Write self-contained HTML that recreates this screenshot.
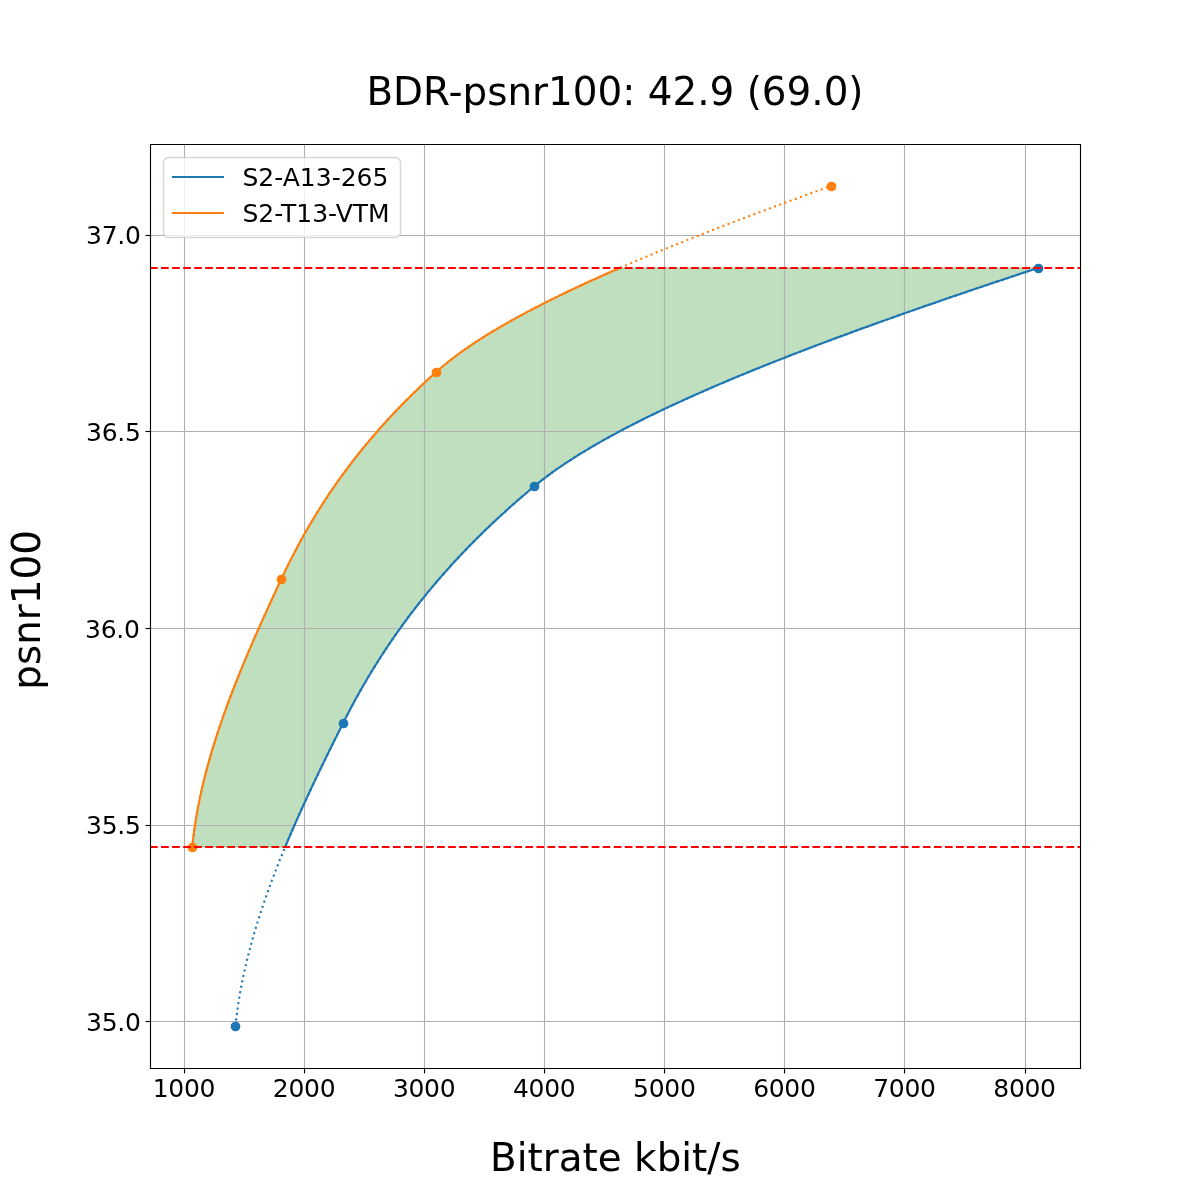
<!DOCTYPE html>
<html lang="en"><head><meta charset="utf-8"><title>BDR-psnr100</title>
<style>html,body{margin:0;padding:0;background:#fff}body{width:1200px;height:1200px;overflow:hidden}svg{display:block}</style></head>
<body>
<svg width="1200" height="1200" viewBox="0 0 1200 1200">
<defs><clipPath id="ax"><rect x="150" y="144" width="930" height="924"/></clipPath></defs>
<rect width="1200" height="1200" fill="#fff"/>
<g clip-path="url(#ax)">
<path d="M285.16 847.00 L286.37 844.09 L287.59 841.18 L288.83 838.27 L290.07 835.36 L291.32 832.45 L292.58 829.54 L293.85 826.63 L295.13 823.72 L296.41 820.81 L297.70 817.90 L299.01 814.99 L300.31 812.09 L301.63 809.18 L302.95 806.27 L304.28 803.36 L305.62 800.45 L306.96 797.54 L308.31 794.63 L309.67 791.72 L311.03 788.81 L312.40 785.90 L313.78 782.99 L315.16 780.08 L316.54 777.17 L317.94 774.26 L319.33 771.35 L320.73 768.44 L322.14 765.53 L323.55 762.62 L324.97 759.71 L326.39 756.80 L327.81 753.89 L329.24 750.98 L330.67 748.08 L332.11 745.17 L333.55 742.26 L334.99 739.35 L336.43 736.44 L337.88 733.53 L339.33 730.62 L340.79 727.71 L342.24 724.80 L343.70 721.89 L345.18 718.98 L346.67 716.07 L348.17 713.16 L349.69 710.25 L351.23 707.34 L352.79 704.43 L354.36 701.52 L355.95 698.61 L357.56 695.70 L359.18 692.79 L360.82 689.88 L362.48 686.97 L364.16 684.07 L365.86 681.16 L367.57 678.25 L369.31 675.34 L371.06 672.43 L372.83 669.52 L374.63 666.61 L376.44 663.70 L378.27 660.79 L380.13 657.88 L382.00 654.97 L383.90 652.06 L385.82 649.15 L387.76 646.24 L389.72 643.33 L391.70 640.42 L393.70 637.51 L395.73 634.60 L397.78 631.69 L399.85 628.78 L401.95 625.87 L404.06 622.96 L406.21 620.06 L408.37 617.15 L410.56 614.24 L412.78 611.33 L415.02 608.42 L417.28 605.51 L419.57 602.60 L421.88 599.69 L424.22 596.78 L426.59 593.87 L428.98 590.96 L431.40 588.05 L433.84 585.14 L436.31 582.23 L438.81 579.32 L441.34 576.41 L443.89 573.50 L446.47 570.59 L449.08 567.68 L451.71 564.77 L454.38 561.86 L457.07 558.95 L459.79 556.05 L462.54 553.14 L465.32 550.23 L468.13 547.32 L470.97 544.41 L473.84 541.50 L476.74 538.59 L479.67 535.68 L482.63 532.77 L485.63 529.86 L488.65 526.95 L491.71 524.04 L494.79 521.13 L497.91 518.22 L501.06 515.31 L504.24 512.40 L507.46 509.49 L510.71 506.58 L513.99 503.67 L517.31 500.76 L520.66 497.85 L524.04 494.94 L527.46 492.04 L530.91 489.13 L534.39 486.22 L537.96 483.31 L541.63 480.40 L545.42 477.49 L549.33 474.58 L553.34 471.67 L557.46 468.76 L561.69 465.85 L566.03 462.94 L570.47 460.03 L575.01 457.12 L579.66 454.21 L584.42 451.30 L589.27 448.39 L594.22 445.48 L599.27 442.57 L604.42 439.66 L609.67 436.75 L615.01 433.84 L620.44 430.93 L625.97 428.03 L631.59 425.12 L637.29 422.21 L643.09 419.30 L648.98 416.39 L654.95 413.48 L661.00 410.57 L667.15 407.66 L673.37 404.75 L679.68 401.84 L686.06 398.93 L692.53 396.02 L699.08 393.11 L705.70 390.20 L712.40 387.29 L719.17 384.38 L726.02 381.47 L732.93 378.56 L739.92 375.65 L746.98 372.74 L754.11 369.83 L761.31 366.92 L768.57 364.02 L775.90 361.11 L783.29 358.20 L790.75 355.29 L798.26 352.38 L805.84 349.47 L813.48 346.56 L821.17 343.65 L828.92 340.74 L836.73 337.83 L844.59 334.92 L852.51 332.01 L860.48 329.10 L868.49 326.19 L876.56 323.28 L884.68 320.37 L892.84 317.46 L901.05 314.55 L909.31 311.64 L917.61 308.73 L925.95 305.82 L934.33 302.91 L942.76 300.01 L951.22 297.10 L959.72 294.19 L968.26 291.28 L976.83 288.37 L985.44 285.46 L994.07 282.55 L1002.75 279.64 L1011.45 276.73 L1020.18 273.82 L1028.94 270.91 L1037.73 268.00 L619.79 268.00 L613.12 270.91 L606.51 273.82 L599.98 276.73 L593.52 279.64 L587.14 282.55 L580.84 285.46 L574.61 288.37 L568.47 291.28 L562.41 294.19 L556.43 297.10 L550.53 300.01 L544.73 302.91 L539.01 305.82 L533.38 308.73 L527.84 311.64 L522.40 314.55 L517.04 317.46 L511.79 320.37 L506.63 323.28 L501.57 326.19 L496.62 329.10 L491.76 332.01 L487.01 334.92 L482.36 337.83 L477.82 340.74 L473.39 343.65 L469.06 346.56 L464.85 349.47 L460.75 352.38 L456.77 355.29 L452.90 358.20 L449.15 361.11 L445.52 364.02 L442.00 366.92 L438.61 369.83 L435.34 372.74 L432.12 375.65 L428.94 378.56 L425.80 381.47 L422.69 384.38 L419.62 387.29 L416.59 390.20 L413.59 393.11 L410.62 396.02 L407.69 398.93 L404.79 401.84 L401.93 404.75 L399.10 407.66 L396.31 410.57 L393.55 413.48 L390.82 416.39 L388.12 419.30 L385.46 422.21 L382.83 425.12 L380.23 428.03 L377.66 430.93 L375.12 433.84 L372.61 436.75 L370.14 439.66 L367.69 442.57 L365.27 445.48 L362.89 448.39 L360.53 451.30 L358.20 454.21 L355.90 457.12 L353.63 460.03 L351.38 462.94 L349.17 465.85 L346.98 468.76 L344.82 471.67 L342.68 474.58 L340.58 477.49 L338.49 480.40 L336.44 483.31 L334.41 486.22 L332.40 489.13 L330.42 492.04 L328.47 494.94 L326.54 497.85 L324.63 500.76 L322.75 503.67 L320.89 506.58 L319.05 509.49 L317.24 512.40 L315.45 515.31 L313.68 518.22 L311.94 521.13 L310.21 524.04 L308.51 526.95 L306.83 529.86 L305.17 532.77 L303.53 535.68 L301.91 538.59 L300.31 541.50 L298.73 544.41 L297.17 547.32 L295.63 550.23 L294.10 553.14 L292.60 556.05 L291.11 558.95 L289.64 561.86 L288.19 564.77 L286.76 567.68 L285.34 570.59 L283.94 573.50 L282.55 576.41 L281.19 579.32 L279.83 582.23 L278.47 585.14 L277.12 588.05 L275.76 590.96 L274.42 593.87 L273.07 596.78 L271.73 599.69 L270.39 602.60 L269.06 605.51 L267.73 608.42 L266.40 611.33 L265.08 614.24 L263.77 617.15 L262.46 620.06 L261.15 622.96 L259.85 625.87 L258.56 628.78 L257.27 631.69 L255.98 634.60 L254.71 637.51 L253.44 640.42 L252.17 643.33 L250.92 646.24 L249.67 649.15 L248.42 652.06 L247.19 654.97 L245.96 657.88 L244.74 660.79 L243.53 663.70 L242.33 666.61 L241.13 669.52 L239.94 672.43 L238.77 675.34 L237.60 678.25 L236.44 681.16 L235.29 684.07 L234.15 686.97 L233.02 689.88 L231.90 692.79 L230.79 695.70 L229.69 698.61 L228.60 701.52 L227.52 704.43 L226.46 707.34 L225.40 710.25 L224.36 713.16 L223.32 716.07 L222.30 718.98 L221.29 721.89 L220.30 724.80 L219.31 727.71 L218.34 730.62 L217.39 733.53 L216.44 736.44 L215.51 739.35 L214.59 742.26 L213.69 745.17 L212.80 748.08 L211.92 750.98 L211.06 753.89 L210.21 756.80 L209.38 759.71 L208.56 762.62 L207.76 765.53 L206.97 768.44 L206.20 771.35 L205.44 774.26 L204.70 777.17 L203.98 780.08 L203.27 782.99 L202.58 785.90 L201.91 788.81 L201.25 791.72 L200.61 794.63 L199.99 797.54 L199.39 800.45 L198.80 803.36 L198.23 806.27 L197.68 809.18 L197.15 812.09 L196.63 814.99 L196.14 817.90 L195.66 820.81 L195.21 823.72 L194.77 826.63 L194.35 829.54 L193.95 832.45 L193.58 835.36 L193.22 838.27 L192.88 841.18 L192.57 844.09 L192.27 847.00Z" fill="#008000" fill-opacity="0.25" stroke="#008000" stroke-opacity="0.25" stroke-width="1.389" stroke-linejoin="round"/>
</g>
<g stroke="#b0b0b0" stroke-width="1.111" fill="none">
<path d="M184.5 144V1068"/>
<path d="M304.5 144V1068"/>
<path d="M424.5 144V1068"/>
<path d="M544.5 144V1068"/>
<path d="M664.5 144V1068"/>
<path d="M784.5 144V1068"/>
<path d="M904.5 144V1068"/>
<path d="M1025.5 144V1068"/>
<path d="M150 235.5H1080"/>
<path d="M150 431.5H1080"/>
<path d="M150 628.5H1080"/>
<path d="M150 825.5H1080"/>
<path d="M150 1021.5H1080"/>
</g>
<g stroke="#000" stroke-width="1.111" fill="none">
<path d="M184.5 1068.5V1073.5"/>
<path d="M304.5 1068.5V1073.5"/>
<path d="M424.5 1068.5V1073.5"/>
<path d="M544.5 1068.5V1073.5"/>
<path d="M664.5 1068.5V1073.5"/>
<path d="M784.5 1068.5V1073.5"/>
<path d="M904.5 1068.5V1073.5"/>
<path d="M1025.5 1068.5V1073.5"/>
<path d="M150.5 235.5H145.5"/>
<path d="M150.5 431.5H145.5"/>
<path d="M150.5 628.5H145.5"/>
<path d="M150.5 825.5H145.5"/>
<path d="M150.5 1021.5H145.5"/>
</g>
<g clip-path="url(#ax)" fill="none" stroke-width="2.083" stroke-linejoin="round">
<path d="M285.16 847.00 L286.37 844.09 L287.59 841.18 L288.83 838.27 L290.07 835.36 L291.32 832.45 L292.58 829.54 L293.85 826.63 L295.13 823.72 L296.41 820.81 L297.70 817.90 L299.01 814.99 L300.31 812.09 L301.63 809.18 L302.95 806.27 L304.28 803.36 L305.62 800.45 L306.96 797.54 L308.31 794.63 L309.67 791.72 L311.03 788.81 L312.40 785.90 L313.78 782.99 L315.16 780.08 L316.54 777.17 L317.94 774.26 L319.33 771.35 L320.73 768.44 L322.14 765.53 L323.55 762.62 L324.97 759.71 L326.39 756.80 L327.81 753.89 L329.24 750.98 L330.67 748.08 L332.11 745.17 L333.55 742.26 L334.99 739.35 L336.43 736.44 L337.88 733.53 L339.33 730.62 L340.79 727.71 L342.24 724.80 L343.70 721.89 L345.18 718.98 L346.67 716.07 L348.17 713.16 L349.69 710.25 L351.23 707.34 L352.79 704.43 L354.36 701.52 L355.95 698.61 L357.56 695.70 L359.18 692.79 L360.82 689.88 L362.48 686.97 L364.16 684.07 L365.86 681.16 L367.57 678.25 L369.31 675.34 L371.06 672.43 L372.83 669.52 L374.63 666.61 L376.44 663.70 L378.27 660.79 L380.13 657.88 L382.00 654.97 L383.90 652.06 L385.82 649.15 L387.76 646.24 L389.72 643.33 L391.70 640.42 L393.70 637.51 L395.73 634.60 L397.78 631.69 L399.85 628.78 L401.95 625.87 L404.06 622.96 L406.21 620.06 L408.37 617.15 L410.56 614.24 L412.78 611.33 L415.02 608.42 L417.28 605.51 L419.57 602.60 L421.88 599.69 L424.22 596.78 L426.59 593.87 L428.98 590.96 L431.40 588.05 L433.84 585.14 L436.31 582.23 L438.81 579.32 L441.34 576.41 L443.89 573.50 L446.47 570.59 L449.08 567.68 L451.71 564.77 L454.38 561.86 L457.07 558.95 L459.79 556.05 L462.54 553.14 L465.32 550.23 L468.13 547.32 L470.97 544.41 L473.84 541.50 L476.74 538.59 L479.67 535.68 L482.63 532.77 L485.63 529.86 L488.65 526.95 L491.71 524.04 L494.79 521.13 L497.91 518.22 L501.06 515.31 L504.24 512.40 L507.46 509.49 L510.71 506.58 L513.99 503.67 L517.31 500.76 L520.66 497.85 L524.04 494.94 L527.46 492.04 L530.91 489.13 L534.39 486.22 L537.96 483.31 L541.63 480.40 L545.42 477.49 L549.33 474.58 L553.34 471.67 L557.46 468.76 L561.69 465.85 L566.03 462.94 L570.47 460.03 L575.01 457.12 L579.66 454.21 L584.42 451.30 L589.27 448.39 L594.22 445.48 L599.27 442.57 L604.42 439.66 L609.67 436.75 L615.01 433.84 L620.44 430.93 L625.97 428.03 L631.59 425.12 L637.29 422.21 L643.09 419.30 L648.98 416.39 L654.95 413.48 L661.00 410.57 L667.15 407.66 L673.37 404.75 L679.68 401.84 L686.06 398.93 L692.53 396.02 L699.08 393.11 L705.70 390.20 L712.40 387.29 L719.17 384.38 L726.02 381.47 L732.93 378.56 L739.92 375.65 L746.98 372.74 L754.11 369.83 L761.31 366.92 L768.57 364.02 L775.90 361.11 L783.29 358.20 L790.75 355.29 L798.26 352.38 L805.84 349.47 L813.48 346.56 L821.17 343.65 L828.92 340.74 L836.73 337.83 L844.59 334.92 L852.51 332.01 L860.48 329.10 L868.49 326.19 L876.56 323.28 L884.68 320.37 L892.84 317.46 L901.05 314.55 L909.31 311.64 L917.61 308.73 L925.95 305.82 L934.33 302.91 L942.76 300.01 L951.22 297.10 L959.72 294.19 L968.26 291.28 L976.83 288.37 L985.44 285.46 L994.07 282.55 L1002.75 279.64 L1011.45 276.73 L1020.18 273.82 L1028.94 270.91 L1037.73 268.00" stroke="#1f77b4" stroke-linecap="square"/>
<path d="M192.27 847.00 L192.57 844.09 L192.88 841.18 L193.22 838.27 L193.58 835.36 L193.95 832.45 L194.35 829.54 L194.77 826.63 L195.21 823.72 L195.66 820.81 L196.14 817.90 L196.63 814.99 L197.15 812.09 L197.68 809.18 L198.23 806.27 L198.80 803.36 L199.39 800.45 L199.99 797.54 L200.61 794.63 L201.25 791.72 L201.91 788.81 L202.58 785.90 L203.27 782.99 L203.98 780.08 L204.70 777.17 L205.44 774.26 L206.20 771.35 L206.97 768.44 L207.76 765.53 L208.56 762.62 L209.38 759.71 L210.21 756.80 L211.06 753.89 L211.92 750.98 L212.80 748.08 L213.69 745.17 L214.59 742.26 L215.51 739.35 L216.44 736.44 L217.39 733.53 L218.34 730.62 L219.31 727.71 L220.30 724.80 L221.29 721.89 L222.30 718.98 L223.32 716.07 L224.36 713.16 L225.40 710.25 L226.46 707.34 L227.52 704.43 L228.60 701.52 L229.69 698.61 L230.79 695.70 L231.90 692.79 L233.02 689.88 L234.15 686.97 L235.29 684.07 L236.44 681.16 L237.60 678.25 L238.77 675.34 L239.94 672.43 L241.13 669.52 L242.33 666.61 L243.53 663.70 L244.74 660.79 L245.96 657.88 L247.19 654.97 L248.42 652.06 L249.67 649.15 L250.92 646.24 L252.17 643.33 L253.44 640.42 L254.71 637.51 L255.98 634.60 L257.27 631.69 L258.56 628.78 L259.85 625.87 L261.15 622.96 L262.46 620.06 L263.77 617.15 L265.08 614.24 L266.40 611.33 L267.73 608.42 L269.06 605.51 L270.39 602.60 L271.73 599.69 L273.07 596.78 L274.42 593.87 L275.76 590.96 L277.12 588.05 L278.47 585.14 L279.83 582.23 L281.19 579.32 L282.55 576.41 L283.94 573.50 L285.34 570.59 L286.76 567.68 L288.19 564.77 L289.64 561.86 L291.11 558.95 L292.60 556.05 L294.10 553.14 L295.63 550.23 L297.17 547.32 L298.73 544.41 L300.31 541.50 L301.91 538.59 L303.53 535.68 L305.17 532.77 L306.83 529.86 L308.51 526.95 L310.21 524.04 L311.94 521.13 L313.68 518.22 L315.45 515.31 L317.24 512.40 L319.05 509.49 L320.89 506.58 L322.75 503.67 L324.63 500.76 L326.54 497.85 L328.47 494.94 L330.42 492.04 L332.40 489.13 L334.41 486.22 L336.44 483.31 L338.49 480.40 L340.58 477.49 L342.68 474.58 L344.82 471.67 L346.98 468.76 L349.17 465.85 L351.38 462.94 L353.63 460.03 L355.90 457.12 L358.20 454.21 L360.53 451.30 L362.89 448.39 L365.27 445.48 L367.69 442.57 L370.14 439.66 L372.61 436.75 L375.12 433.84 L377.66 430.93 L380.23 428.03 L382.83 425.12 L385.46 422.21 L388.12 419.30 L390.82 416.39 L393.55 413.48 L396.31 410.57 L399.10 407.66 L401.93 404.75 L404.79 401.84 L407.69 398.93 L410.62 396.02 L413.59 393.11 L416.59 390.20 L419.62 387.29 L422.69 384.38 L425.80 381.47 L428.94 378.56 L432.12 375.65 L435.34 372.74 L438.61 369.83 L442.00 366.92 L445.52 364.02 L449.15 361.11 L452.90 358.20 L456.77 355.29 L460.75 352.38 L464.85 349.47 L469.06 346.56 L473.39 343.65 L477.82 340.74 L482.36 337.83 L487.01 334.92 L491.76 332.01 L496.62 329.10 L501.57 326.19 L506.63 323.28 L511.79 320.37 L517.04 317.46 L522.40 314.55 L527.84 311.64 L533.38 308.73 L539.01 305.82 L544.73 302.91 L550.53 300.01 L556.43 297.10 L562.41 294.19 L568.47 291.28 L574.61 288.37 L580.84 285.46 L587.14 282.55 L593.52 279.64 L599.98 276.73 L606.51 273.82 L613.12 270.91 L619.79 268.00" stroke="#ff7f0e" stroke-linecap="square"/>
<path d="M235.45 1026.00 L235.72 1023.46 L236.00 1020.93 L236.29 1018.39 L236.60 1015.86 L236.93 1013.32 L237.27 1010.79 L237.63 1008.25 L238.00 1005.72 L238.38 1003.18 L238.78 1000.65 L239.19 998.11 L239.62 995.58 L240.06 993.04 L240.51 990.51 L240.98 987.97 L241.47 985.44 L241.96 982.90 L242.47 980.37 L242.99 977.83 L243.53 975.30 L244.08 972.76 L244.64 970.23 L245.21 967.69 L245.80 965.16 L246.40 962.62 L247.01 960.09 L247.63 957.55 L248.27 955.02 L248.92 952.48 L249.58 949.95 L250.25 947.41 L250.93 944.88 L251.63 942.34 L252.34 939.81 L253.05 937.27 L253.78 934.74 L254.53 932.20 L255.28 929.67 L256.04 927.13 L256.82 924.60 L257.60 922.06 L258.40 919.53 L259.20 916.99 L260.02 914.45 L260.84 911.92 L261.68 909.38 L262.53 906.85 L263.39 904.31 L264.25 901.78 L265.13 899.24 L266.01 896.71 L266.91 894.17 L267.81 891.64 L268.73 889.10 L269.65 886.57 L270.58 884.03 L271.52 881.50 L272.47 878.96 L273.43 876.43 L274.40 873.89 L275.38 871.36 L276.36 868.82 L277.35 866.29 L278.35 863.75 L279.36 861.22 L280.38 858.68 L281.40 856.15 L282.43 853.61 L283.47 851.08 L284.52 848.54 L285.57 846.01 L286.63 843.47 L287.70 840.94 L288.77 838.40 L289.85 835.87 L290.94 833.33 L292.04 830.80 L293.14 828.26 L294.25 825.73 L295.36 823.19 L296.48 820.66 L297.61 818.12 L298.74 815.59 L299.88 813.05 L301.02 810.52 L302.17 807.98 L303.33 805.44 L304.49 802.91 L305.65 800.37 L306.82 797.84 L308.00 795.30 L309.18 792.77 L310.36 790.23 L311.55 787.70 L312.75 785.16 L313.95 782.63 L315.15 780.09 L316.36 777.56 L317.57 775.02 L318.79 772.49 L320.01 769.95 L321.23 767.42 L322.46 764.88 L323.69 762.35 L324.92 759.81 L326.16 757.28 L327.40 754.74 L328.64 752.21 L329.89 749.67 L331.13 747.14 L332.39 744.60 L333.64 742.07 L334.90 739.53 L336.16 737.00 L337.42 734.46 L338.68 731.93 L339.95 729.39 L341.21 726.86 L342.48 724.32 L343.76 721.79 L345.04 719.25 L346.34 716.72 L347.64 714.18 L348.96 711.65 L350.30 709.11 L351.64 706.58 L353.00 704.04 L354.37 701.51 L355.75 698.97 L357.15 696.43 L358.56 693.90 L359.98 691.36 L361.42 688.83 L362.87 686.29 L364.34 683.76 L365.82 681.22 L367.31 678.69 L368.82 676.15 L370.34 673.62 L371.88 671.08 L373.43 668.55 L375.00 666.01 L376.58 663.48 L378.18 660.94 L379.79 658.41 L381.42 655.87 L383.06 653.34 L384.73 650.80 L386.40 648.27 L388.10 645.73 L389.81 643.20 L391.53 640.66 L393.28 638.13 L395.04 635.59 L396.82 633.06 L398.61 630.52 L400.42 627.99 L402.25 625.45 L404.10 622.92 L405.97 620.38 L407.85 617.85 L409.75 615.31 L411.67 612.78 L413.61 610.24 L415.57 607.71 L417.55 605.17 L419.54 602.64 L421.56 600.10 L423.59 597.57 L425.64 595.03 L427.72 592.49 L429.81 589.96 L431.92 587.42 L434.06 584.89 L436.21 582.35 L438.38 579.82 L440.58 577.28 L442.79 574.75 L445.03 572.21 L447.29 569.68 L449.56 567.14 L451.86 564.61 L454.18 562.07 L456.53 559.54 L458.89 557.00 L461.28 554.47 L463.69 551.93 L466.12 549.40 L468.57 546.86 L471.05 544.33 L473.55 541.79 L476.07 539.26 L478.62 536.72 L481.19 534.19 L483.78 531.65 L486.40 529.12 L489.03 526.58 L491.70 524.05 L494.39 521.51 L497.10 518.98 L499.83 516.44 L502.59 513.91 L505.38 511.37 L508.19 508.84 L511.03 506.30 L513.89 503.77 L516.77 501.23 L519.68 498.70 L522.62 496.16 L525.58 493.63 L528.57 491.09 L531.59 488.56 L534.63 486.02 L537.73 483.48 L540.93 480.95 L544.20 478.41 L547.57 475.88 L551.01 473.34 L554.54 470.81 L558.16 468.27 L561.85 465.74 L565.63 463.20 L569.48 460.67 L573.42 458.13 L577.43 455.60 L581.53 453.06 L585.70 450.53 L589.94 447.99 L594.26 445.46 L598.66 442.92 L603.13 440.39 L607.68 437.85 L612.29 435.32 L616.98 432.78 L621.74 430.25 L626.57 427.71 L631.47 425.18 L636.43 422.64 L641.47 420.11 L646.57 417.57 L651.74 415.04 L656.97 412.50 L662.27 409.97 L667.63 407.43 L673.05 404.90 L678.54 402.36 L684.09 399.83 L689.70 397.29 L695.37 394.76 L701.09 392.22 L706.88 389.69 L712.72 387.15 L718.62 384.62 L724.58 382.08 L730.59 379.55 L736.66 377.01 L742.78 374.47 L748.95 371.94 L755.17 369.40 L761.45 366.87 L767.77 364.33 L774.15 361.80 L780.57 359.26 L787.04 356.73 L793.56 354.19 L800.13 351.66 L806.74 349.12 L813.40 346.59 L820.10 344.05 L826.84 341.52 L833.63 338.98 L840.46 336.45 L847.33 333.91 L854.24 331.38 L861.18 328.84 L868.17 326.31 L875.20 323.77 L882.26 321.24 L889.36 318.70 L896.49 316.17 L903.66 313.63 L910.86 311.10 L918.10 308.56 L925.37 306.03 L932.67 303.49 L940.00 300.96 L947.36 298.42 L954.75 295.89 L962.16 293.35 L969.61 290.82 L977.08 288.28 L984.58 285.75 L992.10 283.21 L999.65 280.68 L1007.22 278.14 L1014.82 275.61 L1022.43 273.07 L1030.07 270.54 L1037.73 268.00" stroke="#1f77b4" stroke-dasharray="2.083 3.4375"/>
<path d="M192.27 847.00 L192.49 844.79 L192.73 842.58 L192.97 840.37 L193.23 838.16 L193.50 835.95 L193.78 833.74 L194.08 831.53 L194.38 829.31 L194.70 827.10 L195.03 824.89 L195.37 822.68 L195.72 820.47 L196.08 818.26 L196.45 816.05 L196.83 813.84 L197.23 811.63 L197.63 809.42 L198.05 807.21 L198.48 805.00 L198.91 802.79 L199.36 800.58 L199.82 798.36 L200.28 796.15 L200.76 793.94 L201.25 791.73 L201.75 789.52 L202.25 787.31 L202.77 785.10 L203.30 782.89 L203.83 780.68 L204.38 778.47 L204.93 776.26 L205.50 774.05 L206.07 771.84 L206.66 769.63 L207.25 767.41 L207.85 765.20 L208.46 762.99 L209.08 760.78 L209.70 758.57 L210.34 756.36 L210.98 754.15 L211.64 751.94 L212.30 749.73 L212.97 747.52 L213.64 745.31 L214.33 743.10 L215.02 740.89 L215.72 738.68 L216.43 736.46 L217.15 734.25 L217.87 732.04 L218.60 729.83 L219.34 727.62 L220.09 725.41 L220.84 723.20 L221.60 720.99 L222.37 718.78 L223.15 716.57 L223.93 714.36 L224.72 712.15 L225.51 709.94 L226.32 707.73 L227.12 705.52 L227.94 703.30 L228.76 701.09 L229.59 698.88 L230.42 696.67 L231.26 694.46 L232.11 692.25 L232.96 690.04 L233.82 687.83 L234.68 685.62 L235.55 683.41 L236.42 681.20 L237.30 678.99 L238.19 676.78 L239.08 674.57 L239.97 672.35 L240.88 670.14 L241.78 667.93 L242.69 665.72 L243.61 663.51 L244.53 661.30 L245.45 659.09 L246.38 656.88 L247.32 654.67 L248.26 652.46 L249.20 650.25 L250.14 648.04 L251.10 645.83 L252.05 643.62 L253.01 641.40 L253.97 639.19 L254.94 636.98 L255.91 634.77 L256.88 632.56 L257.86 630.35 L258.84 628.14 L259.83 625.93 L260.81 623.72 L261.80 621.51 L262.80 619.30 L263.79 617.09 L264.79 614.88 L265.80 612.67 L266.80 610.45 L267.81 608.24 L268.82 606.03 L269.83 603.82 L270.84 601.61 L271.86 599.40 L272.88 597.19 L273.90 594.98 L274.92 592.77 L275.95 590.56 L276.98 588.35 L278.01 586.14 L279.04 583.93 L280.07 581.72 L281.10 579.51 L282.14 577.29 L283.18 575.08 L284.24 572.87 L285.31 570.66 L286.38 568.45 L287.47 566.24 L288.56 564.03 L289.66 561.82 L290.78 559.61 L291.90 557.40 L293.04 555.19 L294.19 552.98 L295.34 550.77 L296.51 548.56 L297.69 546.34 L298.88 544.13 L300.08 541.92 L301.29 539.71 L302.51 537.50 L303.75 535.29 L304.99 533.08 L306.25 530.87 L307.52 528.66 L308.80 526.45 L310.10 524.24 L311.40 522.03 L312.72 519.82 L314.06 517.61 L315.40 515.39 L316.76 513.18 L318.13 510.97 L319.51 508.76 L320.91 506.55 L322.32 504.34 L323.74 502.13 L325.18 499.92 L326.63 497.71 L328.10 495.50 L329.58 493.29 L331.07 491.08 L332.58 488.87 L334.10 486.66 L335.64 484.44 L337.19 482.23 L338.76 480.02 L340.34 477.81 L341.94 475.60 L343.55 473.39 L345.18 471.18 L346.82 468.97 L348.48 466.76 L350.15 464.55 L351.84 462.34 L353.55 460.13 L355.27 457.92 L357.01 455.71 L358.77 453.49 L360.54 451.28 L362.33 449.07 L364.14 446.86 L365.96 444.65 L367.80 442.44 L369.66 440.23 L371.53 438.02 L373.42 435.81 L375.33 433.60 L377.26 431.39 L379.20 429.18 L381.17 426.97 L383.15 424.76 L385.15 422.55 L387.17 420.33 L389.20 418.12 L391.26 415.91 L393.33 413.70 L395.43 411.49 L397.54 409.28 L399.67 407.07 L401.82 404.86 L403.99 402.65 L406.18 400.44 L408.39 398.23 L410.62 396.02 L412.87 393.81 L415.14 391.60 L417.43 389.38 L419.75 387.17 L422.08 384.96 L424.43 382.75 L426.80 380.54 L429.20 378.33 L431.61 376.12 L434.05 373.91 L436.50 371.70 L439.01 369.49 L441.59 367.28 L444.23 365.07 L446.95 362.86 L449.73 360.65 L452.59 358.43 L455.51 356.22 L458.50 354.01 L461.55 351.80 L464.67 349.59 L467.86 347.38 L471.11 345.17 L474.43 342.96 L477.80 340.75 L481.24 338.54 L484.75 336.33 L488.31 334.12 L491.93 331.91 L495.61 329.70 L499.36 327.48 L503.16 325.27 L507.02 323.06 L510.93 320.85 L514.90 318.64 L518.93 316.43 L523.01 314.22 L527.15 312.01 L531.34 309.80 L535.58 307.59 L539.88 305.38 L544.23 303.17 L548.62 300.96 L553.07 298.75 L557.57 296.54 L562.12 294.32 L566.71 292.11 L571.36 289.90 L576.05 287.69 L580.79 285.48 L585.57 283.27 L590.40 281.06 L595.27 278.85 L600.18 276.64 L605.14 274.43 L610.14 272.22 L615.18 270.01 L620.27 267.80 L625.39 265.59 L630.55 263.37 L635.75 261.16 L640.99 258.95 L646.27 256.74 L651.58 254.53 L656.93 252.32 L662.32 250.11 L667.74 247.90 L673.20 245.69 L678.68 243.48 L684.21 241.27 L689.76 239.06 L695.34 236.85 L700.96 234.64 L706.61 232.42 L712.28 230.21 L717.99 228.00 L723.72 225.79 L729.48 223.58 L735.27 221.37 L741.08 219.16 L746.92 216.95 L752.78 214.74 L758.67 212.53 L764.58 210.32 L770.51 208.11 L776.47 205.90 L782.44 203.69 L788.44 201.47 L794.46 199.26 L800.50 197.05 L806.55 194.84 L812.63 192.63 L818.72 190.42 L824.83 188.21 L830.95 186.00" stroke="#ff7f0e" stroke-dasharray="2.083 3.4375"/>
<circle cx="235.5" cy="1026.5" r="4.167" fill="#1f77b4" stroke="#1f77b4" stroke-width="1.389"/>
<circle cx="343.5" cy="723.5" r="4.167" fill="#1f77b4" stroke="#1f77b4" stroke-width="1.389"/>
<circle cx="534.5" cy="486.5" r="4.167" fill="#1f77b4" stroke="#1f77b4" stroke-width="1.389"/>
<circle cx="1038.5" cy="268.5" r="4.167" fill="#1f77b4" stroke="#1f77b4" stroke-width="1.389"/>
<circle cx="192.5" cy="847.5" r="4.167" fill="#ff7f0e" stroke="#ff7f0e" stroke-width="1.389"/>
<circle cx="281.5" cy="579.5" r="4.167" fill="#ff7f0e" stroke="#ff7f0e" stroke-width="1.389"/>
<circle cx="436.5" cy="372.5" r="4.167" fill="#ff7f0e" stroke="#ff7f0e" stroke-width="1.389"/>
<circle cx="831.5" cy="186.5" r="4.167" fill="#ff7f0e" stroke="#ff7f0e" stroke-width="1.389"/>
<path d="M150 847.0H1080" stroke="#ff0000" stroke-dasharray="7.708 3.333"/>
<path d="M150 268.0H1080" stroke="#ff0000" stroke-dasharray="7.708 3.333"/>
</g>
<g stroke="#000" stroke-width="1.111" fill="none" stroke-linecap="square">
<path d="M150.5 1068.5V144.5"/><path d="M1080.5 1068.5V144.5"/><path d="M150.5 1068.5H1080.5"/><path d="M150.5 144.5H1080.5"/>
</g>
<g font-family="'DejaVu Sans','Liberation Sans',sans-serif" fill="#000">
<g font-size="25" text-anchor="middle" letter-spacing="-0.3">
<text x="183.99" y="1096.72">1000</text>
<text x="304.07" y="1096.72">2000</text>
<text x="424.14" y="1096.72">3000</text>
<text x="544.22" y="1096.72">4000</text>
<text x="664.29" y="1096.72">5000</text>
<text x="784.37" y="1096.72">6000</text>
<text x="904.45" y="1096.72">7000</text>
<text x="1024.52" y="1096.72">8000</text>
</g><g font-size="25" text-anchor="end" letter-spacing="-0.3">
<text x="140.5" y="244.20">37.0</text>
<text x="140.5" y="440.85">36.5</text>
<text x="139.5" y="637.50">36.0</text>
<text x="140.5" y="834.15">35.5</text>
<text x="140.5" y="1030.80">35.0</text>
</g>
<text x="615.4" y="1170.9" font-size="38.889" text-anchor="middle">Bitrate kbit/s</text>
<text transform="translate(39.64 609.9) rotate(-90)" font-size="38.889" text-anchor="middle">psnr100</text>
<text x="615" y="105.11" font-size="38.889" text-anchor="middle">BDR-psnr100: 42.9 (69.0)</text>
</g>
<g>
<rect x="163.5" y="157.5" width="237" height="80" rx="5" ry="5" fill="#fff" stroke="#ccc" stroke-width="1.389" opacity="0.8"/>
<path d="M173 177H223" stroke="#1f77b4" stroke-width="2.083" stroke-linecap="square"/>
<path d="M173 213H223" stroke="#ff7f0e" stroke-width="2.083" stroke-linecap="square"/>
<g font-family="'DejaVu Sans','Liberation Sans',sans-serif" font-size="25" fill="#000"><text x="242.5" y="185.5">S2-A13-265</text><text x="242.5" y="222.19">S2-T13-VTM</text></g>
</g>
</svg>
</body></html>
